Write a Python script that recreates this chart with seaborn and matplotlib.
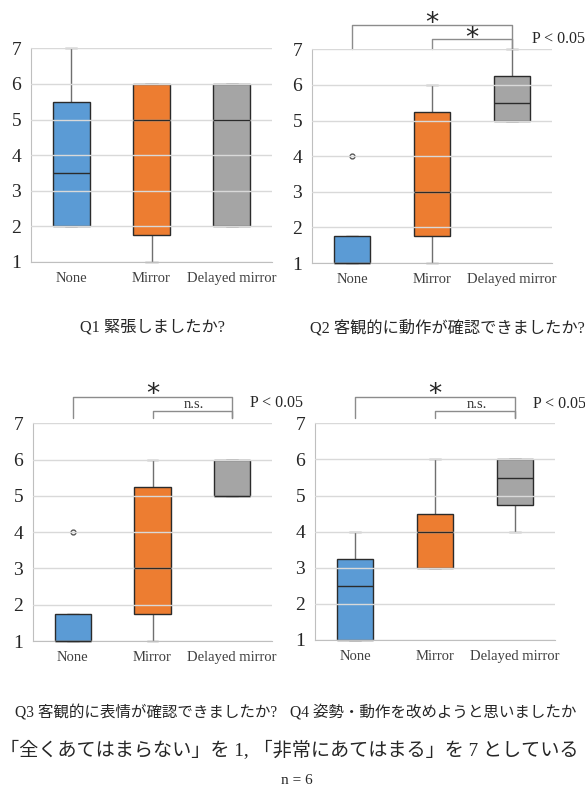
import numpy as np
import pandas as pd
import matplotlib
matplotlib.use("Agg")
import matplotlib.pyplot as plt
import seaborn as sns

# box summaries: min, q1, median, q3, max (+ outlier)
groups = ["None", "Mirror", "Delayed mirror"]
colors = ["#5B9BD5", "#ED7D31", "#A5A5A5"]

q1_none = [2, 2, 3.5, 5.5, 7]
q1_mirror = [1, 1.75, 5, 6, 6]
q1_delayed = [2, 2, 5, 6, 6]

q2_none = [1, 1, 1, 1.75, 4]
q2_mirror = [1, 1.75, 3, 5.25, 6]
q2_delayed = [5, 5, 5.5, 6.25, 7]

q3_none = [1, 1, 1, 1.75, 4]
q3_mirror = [1, 1.75, 3, 5.25, 6]
q3_delayed = [5, 5, 5, 6, 6]

q4_none = [1, 1, 2.5, 3.25, 4]
q4_mirror = [3, 3, 4, 4.5, 6]
q4_delayed = [4, 4.75, 5.5, 6, 6]

titles = ["Q1 緊張しましたか?", "Q2 客観的に動作が確認できましたか?",
          "Q3 客観的に表情が確認できましたか?", "Q4 姿勢・動作を改めようと思いましたか"]
note = "「全くあてはまらない」を 1, 「非常にあてはまる」を 7 としている"
n_text = "n = 6"

sns.set_style("white")
plt.rcParams['font.family'] = ['Liberation Serif', 'Noto Sans CJK JP']
MIX = ['Liberation Serif', 'Noto Sans CJK JP']

W, H = 585, 787
fig = plt.figure(figsize=(W / 100, H / 100), dpi=100)


def rect(x0, x1, ytop, ybot):
    return [x0 / W, 1 - ybot / H, (x1 - x0) / W, (ybot - ytop) / H]


def draw_panel(r, values):
    ax = fig.add_axes(r)
    df = pd.DataFrame({
        "group": np.repeat(groups, [len(v) for v in values]),
        "value": np.concatenate(values),
    })
    sns.boxplot(data=df, x="group", y="value", hue="group", order=groups,
                hue_order=groups, palette=colors, dodge=False, width=0.46,
                linecolor="#2b2b2b", linewidth=1, whis=1.5, legend=False,
                whiskerprops=dict(color="#6f6f6f", zorder=1),
                capprops=dict(color="#6f6f6f", zorder=1),
                medianprops=dict(color="#2b2b2b", zorder=4),
                flierprops=dict(marker="o", markersize=3.5, markerfacecolor="white",
                                markeredgecolor="#555555"),
                capwidths=0.15, saturation=1, ax=ax)
    ax.set_xlim(-0.5, 2.5)
    ax.set_ylim(1, 7.01)
    ax.set_yticks(range(1, 8))
    ax.yaxis.grid(True, color="#d9d9d9", lw=1)
    ax.set_axisbelow(False)
    ax.set_xlabel("")
    ax.set_ylabel("")
    sns.despine(ax=ax)
    for s in ["left", "bottom"]:
        ax.spines[s].set_color("#bfbfbf")
    ax.tick_params(axis="y", length=0, pad=7, labelsize=14, labelcolor="#262626")
    ax.tick_params(axis="x", length=0, pad=7, labelsize=10.5, labelcolor="#404040")
    for a in ax.lines + ax.patches:
        a.set_clip_on(False)
    return ax


def bracket(ax, x0, x1, y, ybot):
    ax.plot([x0, x0, x1, x1], [ybot, y, y, ybot], color="#8c8c8c", lw=1, clip_on=False)


ax1 = draw_panel(rect(31, 272, 48, 262), [q1_none, q1_mirror, q1_delayed])
ax2 = draw_panel(rect(312, 552, 49, 263), [q2_none, q2_mirror, q2_delayed])
ax3 = draw_panel(rect(33, 272, 423, 641), [q3_none, q3_mirror, q3_delayed])
ax4 = draw_panel(rect(315, 555, 423, 640), [q4_none, q4_mirror, q4_delayed])

# significance marks
bracket(ax2, 0, 2, 7.67, 7.0)
bracket(ax2, 1, 2, 7.28, 7.0)
ax2.text(1, 7.72, "*", ha="center", va="center", fontsize=19, family="DejaVu Sans")
ax2.text(1.5, 7.3, "*", ha="center", va="center", fontsize=19, family="DejaVu Sans")
ax2.text(2.25, 7.28, "P < 0.05", ha="left", va="center", fontsize=11.5)

for ax in [ax3, ax4]:
    bracket(ax, 0, 2, 7.74, 7.14)
    bracket(ax, 1, 2, 7.33, 7.14)
    ax.text(1, 7.78, "*", ha="center", va="center", fontsize=19, family="DejaVu Sans")
    ax.text(1.52, 7.34, "n.s.", ha="center", va="bottom", fontsize=10.5, color="#333333")
    ax.text(2.22, 7.55, "P < 0.05", ha="left", va="center", fontsize=11.5)

# captions
fig.text(152 / W, 1 - 328 / H, titles[0], ha="center", va="center", fontsize=11.7, family=MIX)
fig.text(447 / W, 1 - 328 / H, titles[1], ha="center", va="center", fontsize=11.7, family=MIX)
fig.text(15 / W, 1 - 713 / H, titles[2], ha="left", va="center", fontsize=11.2, family=MIX)
fig.text(290 / W, 1 - 713 / H, titles[3], ha="left", va="center", fontsize=11.2, family=MIX)
fig.text(0, 1 - 751 / H, note, ha="left", va="center", fontsize=13.8, family=MIX)
fig.text(297 / W, 1 - 780 / H, n_text, ha="center", va="center", fontsize=11)

fig.savefig("out.png", dpi=100)
